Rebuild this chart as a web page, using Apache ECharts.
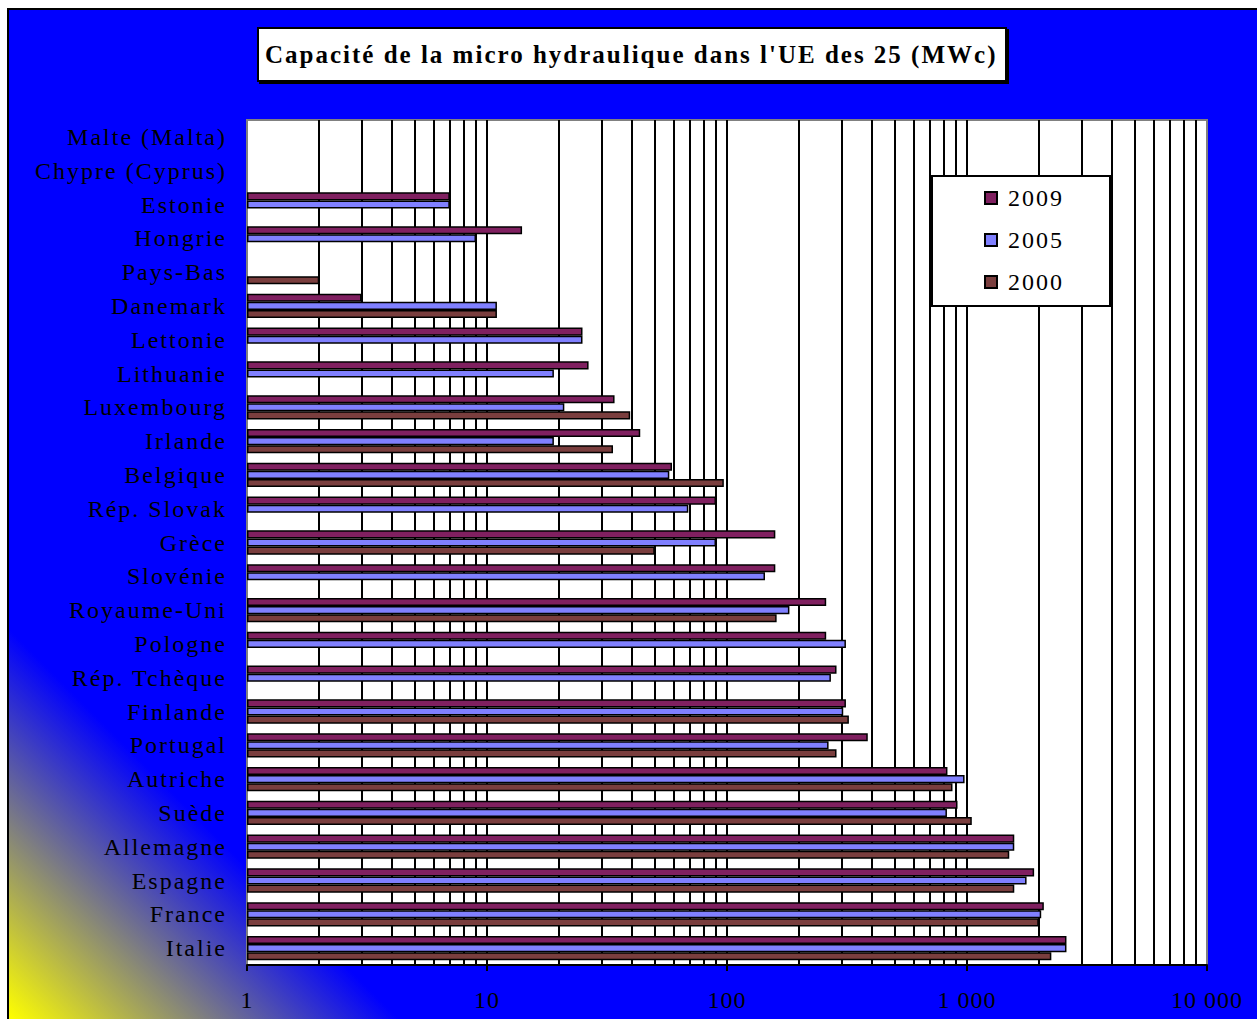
<!DOCTYPE html>
<html>
<head>
<meta charset="utf-8">
<title>Capacité de la micro hydraulique dans l'UE des 25 (MWc)</title>
<script src="https://cdn.jsdelivr.net/npm/echarts@6/dist/echarts.min.js"></script>
<style>
  html, body { margin: 0; padding: 0; overflow: hidden; background: #fff; width: 1257px; height: 1019px; }
  #frame {
    position: absolute; left: 7px; top: 8px; width: 1300px; height: 1013px;
    box-sizing: border-box; border: 2px solid #000;
    background: linear-gradient(45deg, #ffff00 0px, #0000ff 276px);
  }
  #chart { position: absolute; left: 0; top: 0; width: 1257px; height: 1019px; }
  #chart svg text { letter-spacing: 2px; }
  #chart svg text[text-anchor="middle"] { letter-spacing: 1px; }
</style>
</head>
<body>
<div id="frame"></div>
<div id="chart"></div>
<script>
// Countries, top to bottom
const categories = [
  'Malte (Malta)', 'Chypre (Cyprus)', 'Estonie', 'Hongrie', 'Pays-Bas',
  'Danemark', 'Lettonie', 'Lithuanie', 'Luxembourg', 'Irlande',
  'Belgique', 'Rép. Slovak', 'Grèce', 'Slovénie', 'Royaume-Uni',
  'Pologne', 'Rép. Tchèque', 'Finlande', 'Portugal', 'Autriche',
  'Suède', 'Allemagne', 'Espagne', 'France', 'Italie'
];

// Installed small-hydro capacity (MWc); null = no figure
const mw2009 = [null, null, 7, 14, null, 3, 25, 26.5, 34, 43.5,
                59, 90, 159, 159, 259, 259, 286, 313, 386, 829,
                913, 1574, 1904, 2090, 2597];
const mw2005 = [null, null, 7, 9, null, 11, 25, 19, 21, 19,
                57.5, 69, 90, 144, 182, 313, 271, 305, 265, 977,
                825, 1574, 1771, 2038, 2597];
const mw2000 = [null, null, null, null, 2, 11, null, null, 39.5, 33.5,
                97, null, 50, null, 161, null, null, 322, 286, 870,
                1047, 1500, 1574, 1990, 2246];

const seriesNames = ['2009', '2005', '2000'];
const seriesColors = ['#802060', '#8080ff', '#7a3e3e'];

// Log-axis tick labels, one per decade
const tickLabels = ['1', '10', '100', '1 000', '10 000'];
const decades = [1, 10, 100, 1000];
const gridSteps = [1, 2, 3, 4, 5, 6, 7, 8, 9];

// Vertical grid lines at every 1..9 x 10^k inside the plot
const gridValues = [];
decades.forEach(function (d) {
  gridSteps.forEach(function (s) {
    const v = d * s;
    if (v > 1 && v < 10000) gridValues.push(v);
  });
});

const FONT = "'Liberation Serif', 'Times New Roman', serif";

function barSeries(idx, data) {
  const s = {
    name: seriesNames[idx],
    type: 'bar',
    data: data,
    z: 2,
    barGap: '0%',
    barCategoryGap: '28%',
    itemStyle: { color: seriesColors[idx], borderColor: '#000', borderWidth: 1.5 }
  };
  if (idx === 0) {
    s.markLine = {
      silent: true,
      z: 1,
      symbol: 'none',
      label: { show: false },
      lineStyle: { color: '#000', width: 2, type: 'solid' },
      data: gridValues.map(function (v) { return { xAxis: v }; })
    };
  }
  return s;
}

const chart = echarts.init(document.getElementById('chart'), null, { renderer: 'svg' });

chart.setOption({
  animation: false,
  backgroundColor: 'transparent',
  title: {
    text: "Capacité de la micro hydraulique dans l'UE des 25 (MWc)",
    left: 265,
    top: 41,
    padding: 0,
    textAlign: 'left',
    textStyle: { fontFamily: FONT, fontWeight: 'bold', fontSize: 25, lineHeight: 27, color: '#000' }
  },
  graphic: [
    {
      type: 'rect', z: 3,
      shape: { x: 258, y: 28, width: 748, height: 53 },
      style: { fill: '#fff', stroke: '#000', lineWidth: 2, shadowColor: '#000', shadowOffsetX: 2, shadowOffsetY: 2, shadowBlur: 0 }
    },
    {
      type: 'rect', z: 3,
      shape: { x: 932, y: 176, width: 178, height: 130 },
      style: { fill: '#fff', stroke: '#000', lineWidth: 2 }
    }
  ],
  legend: {
    orient: 'vertical',
    left: 984,
    top: 186,
    padding: 0,
    itemWidth: 12,
    itemHeight: 12,
    itemGap: 18,
    icon: 'rect',
    selectedMode: false,
    data: seriesNames,
    textStyle: { fontFamily: FONT, fontSize: 24, lineHeight: 24, color: '#000', padding: [0, 0, 0, 6] }
  },
  grid: {
    left: 247, top: 120, width: 960, height: 845,
    show: true, backgroundColor: '#fff', borderColor: '#808080', borderWidth: 2
  },
  xAxis: {
    type: 'log',
    logBase: 10,
    min: 1,
    max: 10000,
    splitNumber: 4,
    splitLine: { show: false },
    axisLine: { show: true, lineStyle: { color: '#000', width: 2 } },
    axisTick: { show: true, inside: false, length: 6, lineStyle: { color: '#000', width: 2 } },
    axisLabel: {
      margin: 23,
      fontFamily: FONT,
      fontSize: 24,
      color: '#000',
      formatter: function (v) { return tickLabels[Math.round(Math.log10(v))]; }
    }
  },
  yAxis: {
    type: 'category',
    inverse: true,
    data: categories,
    axisLine: { show: false },
    axisTick: { show: false },
    splitLine: { show: false },
    axisLabel: { margin: 20, fontFamily: FONT, fontSize: 24, color: '#000' }
  },
  series: [barSeries(0, mw2009), barSeries(1, mw2005), barSeries(2, mw2000)]
});
</script>
</body>
</html>
